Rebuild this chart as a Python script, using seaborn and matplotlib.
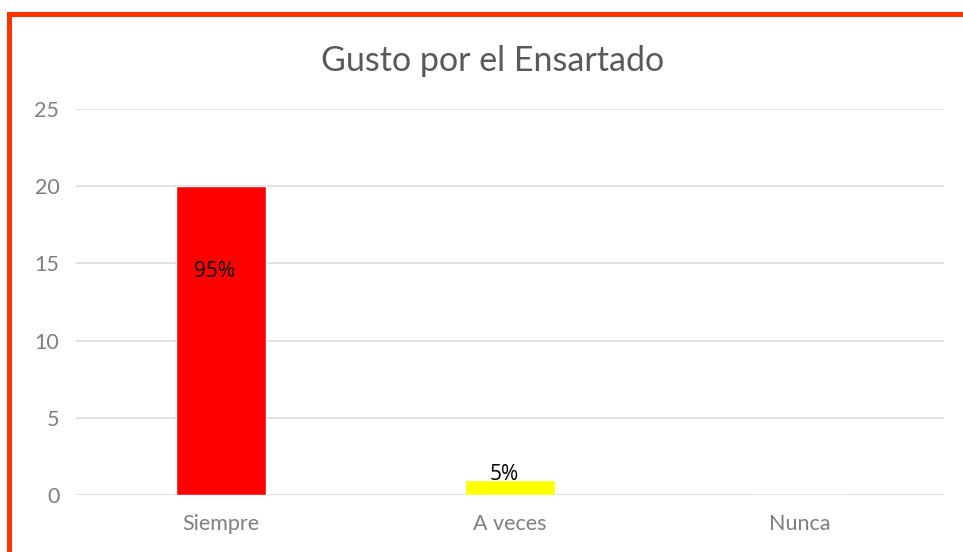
import matplotlib
matplotlib.use("Agg")
import matplotlib.pyplot as plt
from matplotlib.patches import Rectangle
import seaborn as sns
import pandas as pd

categories = ["Siempre", "A veces", "Nunca"]
counts = [20, 1, 0]
bar_colors = ["#ff0000", "#ffff00", "#ffc000"]
y_ticks = [0, 5, 10, 15, 20, 25]
title = "Gusto por el Ensartado"

sns.set_theme(style="white")
plt.rcParams["font.family"] = ["Lato", "DejaVu Sans"]

df = pd.DataFrame({"categoria": categories, "n": counts})
total = sum(counts)

W, H = 963, 552
fig = plt.figure(figsize=(W / 100, H / 100), dpi=100)
ax = fig.add_axes([76 / W, 57 / H, (944 - 76) / W, (495 - 109) / H])

sns.barplot(data=df, x="categoria", y="n", hue="categoria",
            palette=bar_colors, width=0.31, legend=False, ax=ax,
            saturation=1)

ax.set_ylim(0, 25)
ax.set_xlim(-0.5, 2.5)
ax.set_yticks(y_ticks)
ax.yaxis.grid(True, color="#d9d9d9", linewidth=1.1)
ax.set_axisbelow(True)
for s in ax.spines.values():
    s.set_visible(False)
ax.set_xlabel("")
ax.set_ylabel("")
ax.tick_params(axis="both", length=0, labelsize=15.5, colors="#7f7f7f")
ax.tick_params(axis="y", pad=12)
ax.tick_params(axis="x", pad=14)

# percentage labels derived from the counts
for i, v in enumerate(counts):
    if v == 0:
        continue
    pct = f"{round(100 * v / total)}%"
    y = v * 0.725 if v > 5 else v + 0.3
    ax.text(i - 0.02, y, pct, ha="center", va="center", fontsize=15,
            color="black", family=["Open Sans", "DejaVu Sans"])

fig.text(493 / W, 1 - 61 / H, title, ha="center", va="center",
         fontsize=24.5, color="#595959")

# orange-red frame along the top and left edges
frame = "#ff3300"
fig.add_artist(Rectangle((7 / W, 1 - 17 / H), 1 - 7 / W, 5 / H,
                         transform=fig.transFigure, facecolor=frame,
                         edgecolor="none"))
fig.add_artist(Rectangle((7 / W, 0), 5 / W, 1 - 12 / H,
                         transform=fig.transFigure, facecolor=frame,
                         edgecolor="none"))

fig.savefig("out.png", dpi=100)
